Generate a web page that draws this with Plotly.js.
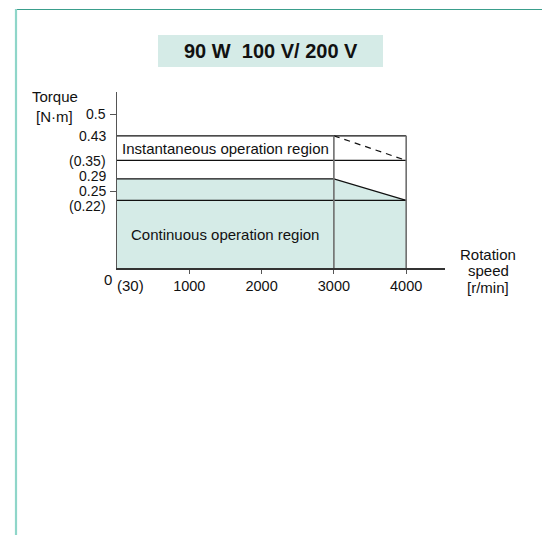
<!DOCTYPE html>
<html>
<head>
<meta charset="utf-8">
<script src="https://cdn.plot.ly/plotly-3.0.1.min.js"></script>
<style>html,body{margin:0;padding:0;background:#fff;}#chart{width:542px;height:535px;}</style>
</head>
<body>
<div id="chart"></div>
<script>
// ---- data ----
var titleText = "90 W  100 V/ 200 V";
var speeds = [0, 3000, 4000];              // r/min
var instTorque = [0.43, 0.43, 0.35];       // instantaneous limit [N·m]
var contTorque = [0.29, 0.29, 0.22];       // continuous limit [N·m]
var yTickVals = [0.5, 0.43, 0.35, 0.29, 0.25, 0.22];
var yTickText = ["0.5", "0.43", "(0.35)", "0.29", "0.25", "(0.22)"];
var yMarkedTicks = [0.5, 0.25];
var xTickVals = [1000, 2000, 3000, 4000];
var xTickText = ["1000", "2000", "3000", "4000"];
var minSpeedLabel = "(30)";
var regionLabels = ["Instantaneous operation region", "Continuous operation region"];
var yTitleLines = ["Torque", "[N·m]"];
var xTitleLines = ["Rotation", "speed", "[r/min]"];

// ---- geometry helpers (pixel -> paper) ----
var L = 117, R = 445, T = 92, B = 268;
function px(x){ return (x - L) / (R - L); }
function py(y){ return (B - y) / (B - T); }

var font = "Liberation Sans, Arial, Helvetica, sans-serif";
var black = "#111";
var gray = "#6e6e6e";

var traces = [];
// continuous region fill
traces.push({
  x: speeds.concat([speeds[2], speeds[0]]),
  y: contTorque.concat([0, 0]),
  type: "scatter", mode: "lines", fill: "toself",
  fillcolor: "#d5ebe7", line: {width: 0}, hoverinfo: "skip", showlegend: false
});
// top line of instantaneous box
traces.push({x: [speeds[0], speeds[2]], y: [instTorque[0], instTorque[0]], mode: "lines",
  line: {color: black, width: 1.2}, showlegend: false});
// 0.35 horizontal
traces.push({x: [speeds[0], speeds[2]], y: [instTorque[2], instTorque[2]], mode: "lines",
  line: {color: black, width: 1.2}, showlegend: false});
// 0.22 horizontal
traces.push({x: [speeds[0], speeds[2]], y: [contTorque[2], contTorque[2]], mode: "lines",
  line: {color: black, width: 1.2}, showlegend: false});
// instantaneous dashed falloff
traces.push({x: speeds.slice(1), y: instTorque.slice(1), mode: "lines",
  line: {color: black, width: 1.2, dash: "6px,5px"}, showlegend: false});
// continuous limit line
traces.push({x: speeds, y: contTorque, mode: "lines",
  line: {color: black, width: 1.2}, showlegend: false});
// vertical lines at 3000 and 4000
traces.push({x: [speeds[1], speeds[1]], y: [0, instTorque[1]], mode: "lines",
  line: {color: gray, width: 1.6}, showlegend: false});
traces.push({x: [speeds[2], speeds[2]], y: [0, instTorque[0]], mode: "lines",
  line: {color: gray, width: 1.6}, showlegend: false});
// dummy trace on yaxis2 for tick marks
traces.push({x: [0], y: [0], yaxis: "y2", mode: "markers", marker: {opacity: 0}, hoverinfo: "skip", showlegend: false});

var annotations = [
  {text: "<b>" + titleText + "</b>", xref: "paper", yref: "paper", x: px(271), y: py(51),
   xanchor: "center", yanchor: "middle", showarrow: false, font: {family: font, size: 20, color: "#111"}},
  {text: regionLabels[0], xref: "x", yref: "y", x: 1500, y: (instTorque[0] + instTorque[2]) / 2,
   xanchor: "center", yanchor: "middle", showarrow: false, font: {family: font, size: 15, color: "#111"}},
  {text: regionLabels[1], xref: "x", yref: "y", x: 1500, y: 0.11,
   xanchor: "center", yanchor: "middle", showarrow: false, font: {family: font, size: 15, color: "#111"}},
  {text: "0", xref: "paper", yref: "paper", x: px(108), y: py(279),
   xanchor: "center", yanchor: "middle", showarrow: false, font: {family: font, size: 15, color: "#111"}},
  {text: minSpeedLabel, xref: "paper", yref: "paper", x: px(130), y: py(285),
   xanchor: "center", yanchor: "middle", showarrow: false, font: {family: font, size: 15, color: "#111"}}
];
// y tick labels (drawn at their axis values, nudged apart like the reference)
var yLabelShift = [0, 0, -1, 3, 0, -6];
yTickVals.forEach(function(v, i){
  annotations.push({text: yTickText[i], xref: "paper", yref: "y", x: px(107), y: v, yshift: yLabelShift[i],
    xanchor: "right", yanchor: "middle", showarrow: false, borderpad: 0,
    font: {family: font, size: 14, color: "#111"}});
});
var yTitleY = [96, 116], yTitleX = [55, 54];
yTitleLines.forEach(function(t, i){
  annotations.push({text: t, xref: "paper", yref: "paper", x: px(yTitleX[i]), y: py(yTitleY[i]),
    xanchor: "center", yanchor: "middle", showarrow: false, font: {family: font, size: 15, color: "#111"}});
});
var xTitleY = [254, 270, 287];
xTitleLines.forEach(function(t, i){
  annotations.push({text: t, xref: "paper", yref: "paper", x: px(488), y: py(xTitleY[i]),
    xanchor: "center", yanchor: "middle", showarrow: false, font: {family: font, size: 15, color: "#111"}});
});

var shapes = [
  {type: "rect", xref: "paper", yref: "paper", x0: px(158), x1: px(383), y0: py(67), y1: py(35),
   fillcolor: "#d5ebe7", line: {width: 0}, layer: "below"},
  {type: "line", xref: "paper", yref: "paper", x0: px(15), x1: px(542), y0: py(9.5), y1: py(9.5),
   line: {color: "#3a9e8c", width: 1}},
  {type: "line", xref: "paper", yref: "paper", x0: px(16), x1: px(16), y0: py(9), y1: py(536),
   line: {color: "#8fd6c9", width: 2.2}}
];

var layout = {
  width: 542, height: 535,
  margin: {l: L, r: 542 - R, t: T, b: 535 - B, pad: 0},
  paper_bgcolor: "#fff", plot_bgcolor: "rgba(0,0,0,0)",
  showlegend: false,
  font: {family: font, size: 15, color: "#111"},
  xaxis: {range: [0, 4537], showgrid: false, zeroline: false, showline: true, linecolor: "#333", linewidth: 1.5,
    tickmode: "array", tickvals: xTickVals, ticktext: xTickText, ticks: "outside", ticklen: 4, tickcolor: "#555",
    tickwidth: 1.2, tickfont: {family: font, size: 14.5, color: "#111"}, fixedrange: true},
  yaxis: {range: [0, 0.5725], showgrid: false, zeroline: false, showline: true, linecolor: "#555", linewidth: 1.5,
    showticklabels: false, ticks: "", fixedrange: true},
  yaxis2: {range: [0, 0.5725], overlaying: "y", side: "left", showgrid: false, zeroline: false, showline: false,
    tickmode: "array", tickvals: yMarkedTicks, ticks: "outside", ticklen: 6, tickcolor: "#555", tickwidth: 1.2,
    showticklabels: false, fixedrange: true},
  annotations: annotations,
  shapes: shapes
};

Plotly.newPlot("chart", traces, layout, {staticPlot: true, displayModeBar: false});
</script>
</body>
</html>
